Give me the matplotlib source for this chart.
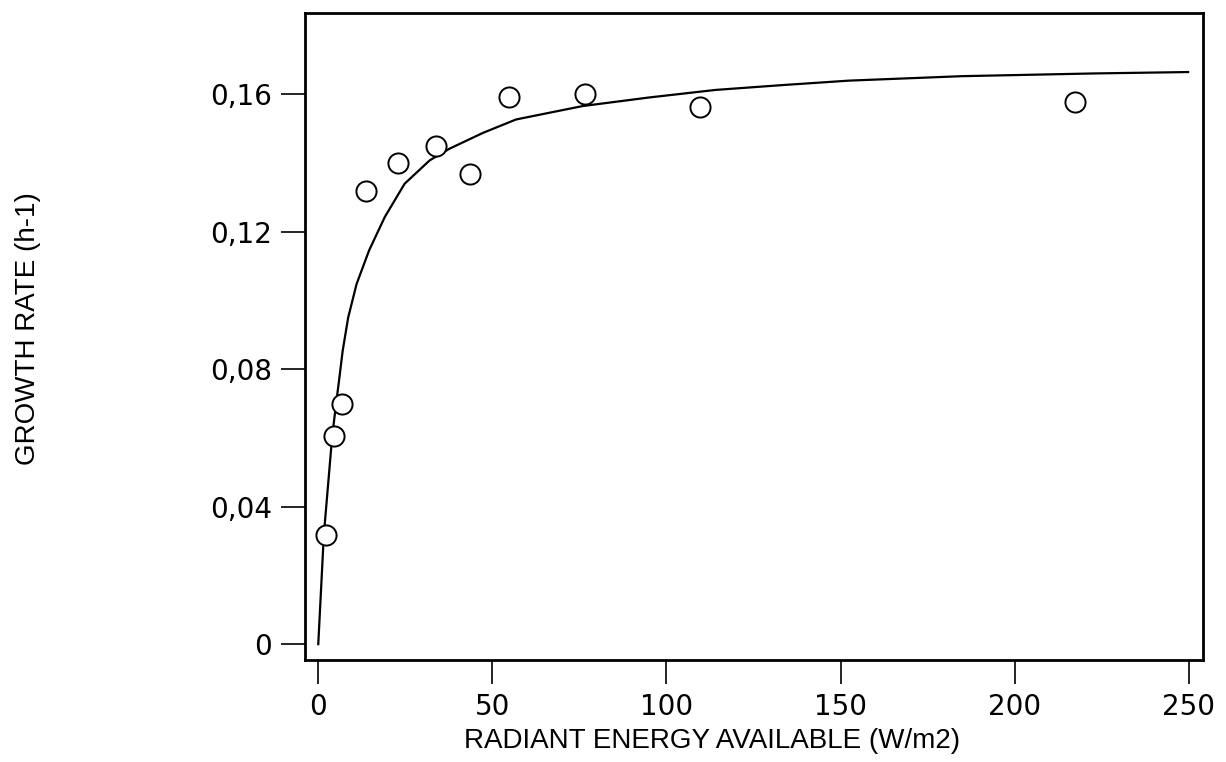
import matplotlib
matplotlib.use('Agg')
import matplotlib.pyplot as plt

# Measured growth rates
energy = [2.1, 4.6, 6.9, 13.7, 22.8, 33.8, 43.5, 54.9, 76.7, 109.6, 217.3]
growth = [0.0318, 0.0605, 0.0698, 0.1318, 0.1399, 0.145, 0.1367, 0.1591, 0.160, 0.1564, 0.1578]

# Fitted curve
fit_x = [0, 1.6, 4.0, 5.1, 6.0, 7.0, 8.6, 11.0, 14.6, 19.1, 24.8, 32.0, 37.7,
         47.3, 56.8, 75.9, 95.0, 114.1, 133.2, 152.3, 184.8, 223.0, 249.8]
fit_y = [0, 0.0318, 0.0605, 0.0698, 0.0770, 0.0853, 0.0951, 0.1048, 0.1146, 0.1243,
         0.1340, 0.1408, 0.1442, 0.1488, 0.1527, 0.1566, 0.1591, 0.1613, 0.1627,
         0.1640, 0.1653, 0.1661, 0.1665]

x_ticks = [0, 50, 100, 150, 200, 250]
x_labels = ['0', '50', '100', '150', '200', '250']
y_ticks = [0, 0.04, 0.08, 0.12, 0.16]
y_labels = ['0', '0,04', '0,08', '0,12', '0,16']

plt.rcParams['font.family'] = ['Liberation Sans', 'DejaVu Sans']

fig = plt.figure(figsize=(12.26, 7.62), dpi=100)
ax = fig.add_axes([0.2488, 0.1339, 0.7325, 0.8491])

ax.plot(fit_x, fit_y, color='black', linewidth=1.6)
ax.plot(energy, growth, linestyle='none', marker='o', markersize=14.5,
        markerfacecolor='white', markeredgecolor='black', markeredgewidth=1.4)

ax.set_xlim(-3.8, 254.1)
ax.set_ylim(-0.0046, 0.1837)

# wider digits, closer to the spaced-out numbers of the original
tick_font = {'family': 'DejaVu Sans', 'size': 20}
ax.set_xticks(x_ticks)
ax.set_xticklabels(x_labels, fontdict=tick_font)
ax.set_yticks(y_ticks)
ax.set_yticklabels(y_labels, fontdict=tick_font)
ax.tick_params(axis='both', direction='out', length=17, width=1.2, pad=7)

for sp in ax.spines.values():
    sp.set_linewidth(2.0)

ax.set_xlabel('RADIANT ENERGY AVAILABLE (W/m2)', fontsize=20)
ax.set_ylabel('GROWTH RATE (h-1)', fontsize=20)
ax.xaxis.set_label_coords(0.453, -0.125)
ax.xaxis.label.set_va('center')
ax.yaxis.set_label_coords(-0.3085, 0.5116)
ax.yaxis.label.set_va('center')

fig.savefig('out.png', dpi=100)
